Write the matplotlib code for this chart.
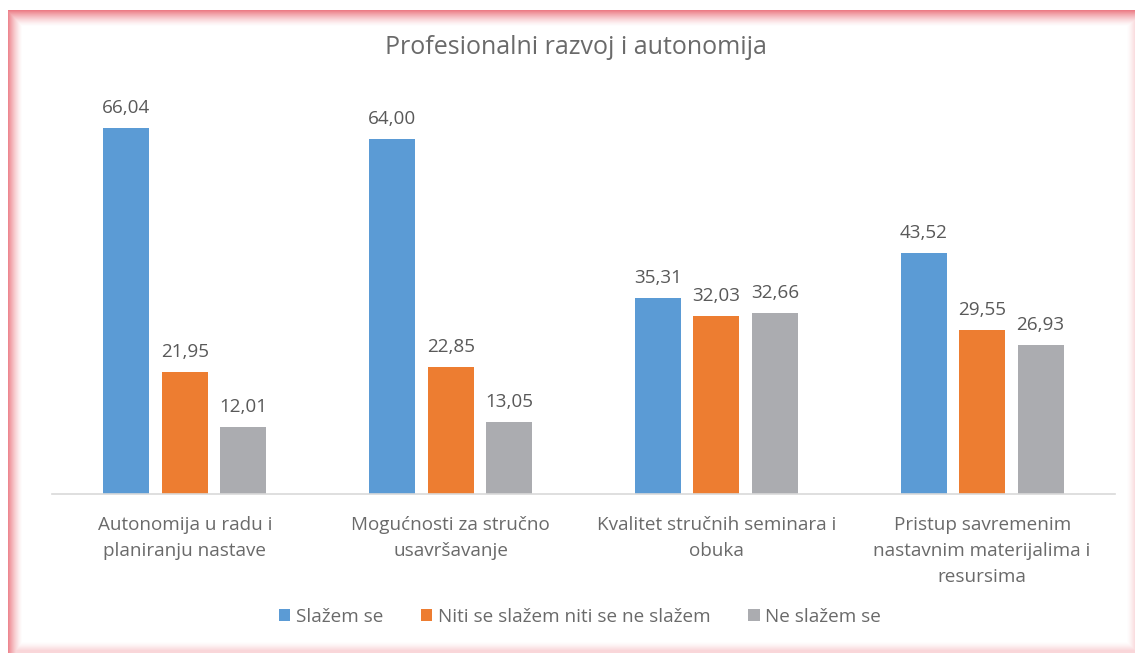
import matplotlib
matplotlib.use("Agg")
import numpy as np
import matplotlib.pyplot as plt

plt.rcParams['font.family'] = ['Open Sans', 'DejaVu Sans']

categories = ['Autonomija u radu i\nplaniranju nastave',
              'Mogućnosti za stručno\nusavršavanje',
              'Kvalitet stručnih seminara i\nobuka',
              'Pristup savremenim\nnastavnim materijalima i\nresursima']
series = {
    'Slažem se': [66.04, 64.00, 35.31, 43.52],
    'Niti se slažem niti se ne slažem': [21.95, 22.85, 32.03, 29.55],
    'Ne slažem se': [12.01, 13.05, 32.66, 26.93],
}
colors = ['#5B9BD5', '#ED7D31', '#ABACB0']
txt = '#595959'
txt2 = '#6A6A6A'

W, H = 1135, 653
fig = plt.figure(figsize=(W / 100, H / 100), dpi=100)
ax = fig.add_axes([52 / W, 1 - 494 / H, (1115 - 52) / W, (494 - 106) / H])

x = np.arange(len(categories))
width = 0.173
offsets = [-0.22, 0, 0.22]
for (name, vals), off, c in zip(series.items(), offsets, colors):
    bars = ax.bar(x + off, vals, width, color=c, label=name)
    for b, v in zip(bars, vals):
        ax.text(b.get_x() + b.get_width() / 2, v + 2.0, f'{v:.2f}'.replace('.', ','),
                ha='center', va='bottom', fontsize=13.6, color=txt)

ax.set_xlim(-0.5, 3.5)
ax.set_ylim(0, 70)
ax.set_yticks([])
ax.set_xticks(x)
ax.set_xticklabels(categories, fontsize=13.6, color=txt2, linespacing=1.58)
ax.tick_params(axis='x', length=0, pad=16)
for s in ['top', 'right', 'left']:
    ax.spines[s].set_visible(False)
ax.spines['bottom'].set_color('#D9D9D9')
ax.spines['bottom'].set_linewidth(1.2)

fig.text(576 / W, 1 - 48 / H, 'Profesionalni razvoj i autonomija', ha='center', va='center',
         fontsize=18, color=txt2)

fig.legend(loc='center', bbox_to_anchor=(580 / W, 1 - 617 / H), ncol=3, frameon=False,
           fontsize=13.6, handlelength=0.6, handleheight=0.6, handletextpad=0.3,
           columnspacing=2.0, labelcolor=txt2)

# red glowing frame
yy, xx = np.mgrid[0:H, 0:W]
alpha = np.zeros((H, W))
alpha = np.maximum(alpha, np.clip(1 - (xx - 8) / 14, 0, 1) * 0.75)
alpha = np.maximum(alpha, np.clip(1 - (yy - 10) / 16, 0, 1) * 0.8)
alpha = np.maximum(alpha, np.clip(1 - (1134 - xx) / 8, 0, 1) * 0.3)
alpha = np.maximum(alpha, np.clip(1 - (650 - yy) / 9, 0, 1) * 0.35)
alpha[(xx < 8) | (yy < 10)] = 0
overlay = np.zeros((H, W, 4))
overlay[..., 0] = 0.9
overlay[..., 1] = 0.3
overlay[..., 2] = 0.35
overlay[..., 3] = alpha ** 1.4
fig.figimage(overlay, xo=0, yo=0, origin='upper', zorder=10)

plt.savefig('out.png', dpi=100)
